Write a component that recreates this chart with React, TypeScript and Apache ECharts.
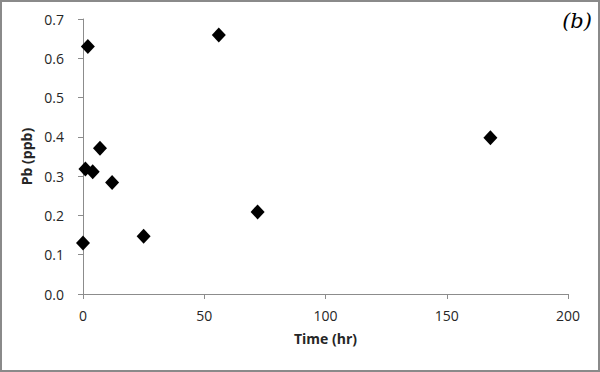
import React, { useEffect, useRef } from "react";
import * as echarts from "echarts";

const timeHr = [0, 2, 1, 4, 7, 12, 25, 56, 72, 168];
const pbPpb = [0.13, 0.63, 0.318, 0.311, 0.371, 0.284, 0.147, 0.659, 0.209, 0.398];
const xTicks = [0, 50, 100, 150, 200];
const yTicks = [0, 0.1, 0.2, 0.3, 0.4, 0.5, 0.6, 0.7];
const panelLabel = "(b)";
const xTitle = "Time (hr)";
const yTitle = "Pb (ppb)";

export default function App() {
  const ref = useRef<HTMLDivElement>(null);
  useEffect(() => {
    if (!ref.current) return;
    const chart = echarts.init(ref.current, undefined, { renderer: "svg" });
    const font = "'Open Sans', 'Liberation Sans', sans-serif";
    const axisColor = "#8c8c8c";
    chart.setOption({
      animation: false,
      backgroundColor: "#ffffff",
      grid: { left: 83, right: 32, top: 19, bottom: 78 },
      xAxis: {
        type: "value",
        min: xTicks[0],
        max: xTicks[xTicks.length - 1],
        interval: 50,
        name: xTitle,
        nameLocation: "middle",
        nameGap: 37,
        nameTextStyle: { fontFamily: font, fontSize: 14, fontWeight: "bold", color: "#262626" },
        axisLine: { show: true, lineStyle: { color: axisColor, width: 1 } },
        axisTick: { show: true, inside: false, length: 5, lineStyle: { color: axisColor } },
        axisLabel: { margin: 14, fontFamily: font, fontSize: 14, color: "#262626" },
        splitLine: { show: false },
      },
      yAxis: {
        type: "value",
        min: yTicks[0],
        max: yTicks[yTicks.length - 1],
        interval: 0.1,
        name: yTitle,
        nameLocation: "middle",
        nameGap: 45,
        nameRotate: 90,
        nameTextStyle: { fontFamily: font, fontSize: 14, fontWeight: "bold", color: "#262626" },
        axisLine: { show: true, lineStyle: { color: axisColor, width: 1 } },
        axisTick: { show: true, inside: false, length: 5, lineStyle: { color: axisColor } },
        axisLabel: {
          margin: 19,
          fontFamily: font,
          fontSize: 14,
          color: "#262626",
          formatter: (v: number) => v.toFixed(1),
        },
        splitLine: { show: false },
      },
      series: [
        {
          type: "scatter",
          symbol: "diamond",
          symbolSize: [14, 15],
          itemStyle: { color: "#000000", opacity: 1 },
          data: timeHr.map((t, i) => [t, pbPpb[i]]),
        },
      ],
      graphic: [
        {
          type: "rect",
          shape: { x: 1, y: 1, width: 598, height: 370 },
          style: { fill: "none", stroke: "#8a8a8a", lineWidth: 2 },
          silent: true,
        },
        {
          type: "text",
          right: 8,
          top: 10,
          style: {
            text: panelLabel,
            font: "italic 21px 'DejaVu Serif', 'Liberation Serif', serif",
            fill: "#000000",
          },
        },
      ],
    });
    return () => chart.dispose();
  }, []);
  return (
    <div
      ref={ref}
      style={{ position: "absolute", left: 0, top: 0, width: 600, height: 372 }}
    />
  );
}
